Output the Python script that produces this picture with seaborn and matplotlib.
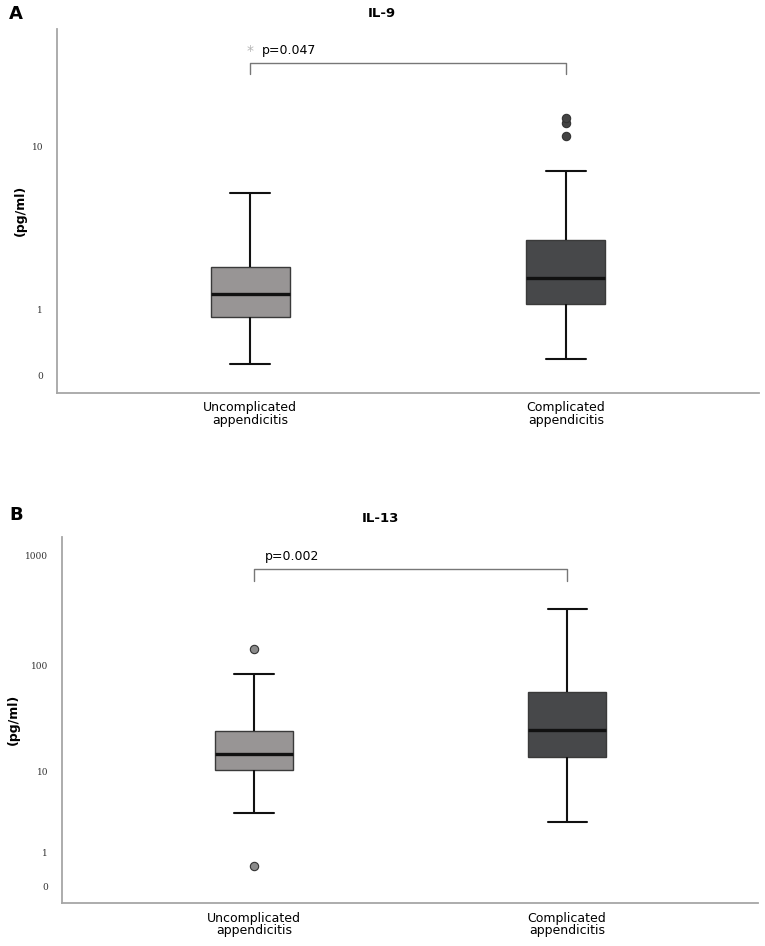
import numpy as np
import pandas as pd
import seaborn as sns
import matplotlib.pyplot as plt
import matplotlib.transforms as mtransforms

groups = ['Uncomplicated\nappendicitis', 'Complicated\nappendicitis']

# five-number summaries: low whisker, Q1, median, Q3, high whisker
il9_uncomp = [0.13, 0.85, 1.36, 2.11, 5.75]
il9_comp = [0.19, 1.12, 1.79, 3.16, 7.5]
il9_outliers = [11.3, 13.1, 13.9]          # complicated group
il13_uncomp = [3.6, 10.3, 14.9, 24.8, 83]
il13_comp = [2.8, 13.8, 25.4, 57.4, 327]
il13_outliers = [141, 0.52]                # uncomplicated group

y_ticks_a = [0, 1, 10]
y_ticks_b = [0, 1, 10, 100, 1000]

box_colors = ['#999494', '#47484a']

sns.set_theme(style='white')
plt.rcParams['font.family'] = ['DejaVu Sans']
plt.rcParams['text.color'] = 'black'
plt.rcParams['xtick.color'] = 'black'


def fwd(v):
    return np.log10(np.maximum(np.asarray(v, dtype=float) + 1, 1e-9))


def inv(v):
    return 10 ** np.asarray(v, dtype=float) - 1


def panel(ax, uncomp, comp, outliers, out_group, out_color, ticks, ylim, xlim):
    df = pd.DataFrame({
        'group': [groups[0]] * len(uncomp) + [groups[1]] * len(comp),
        'value': uncomp + comp,
    })
    sns.boxplot(data=df, x='group', y='value', hue='group', order=groups,
                palette=box_colors, width=0.25, whis=(0, 100), showfliers=False,
                linecolor='#111111', linewidth=1.5, legend=False,
                boxprops=dict(edgecolor='#3a3a3a', linewidth=1.0),
                medianprops=dict(linewidth=2.4, color='#111111'), ax=ax)
    sns.stripplot(x=[out_group] * len(outliers), y=outliers, order=groups,
                  jitter=False, color=out_color, size=6, linewidth=0.8,
                  edgecolor='#333333', ax=ax)
    ax.set_yscale('function', functions=(fwd, inv))
    ax.set_ylim(*ylim)
    ax.set_xlim(*xlim)
    ax.set_yticks(ticks)
    ax.set_yticklabels([str(t) for t in ticks], fontsize=6.5, family='DejaVu Serif',
                       color='#333333')
    ax.set_xticks([0, 1])
    ax.set_xticklabels(groups, fontsize=9, linespacing=0.95)
    ax.tick_params(axis='both', length=0, pad=6)
    ax.tick_params(axis='y', pad=10)
    ax.set_xlabel('')
    ax.set_ylabel('')
    for s in ['top', 'right']:
        ax.spines[s].set_visible(False)
    for s in ['left', 'bottom']:
        ax.spines[s].set_color('#a6a6a6')
        ax.spines[s].set_linewidth(1.3)


def bracket(ax, y_top, y_bot, text, tx, ty, star=False):
    tr = mtransforms.blended_transform_factory(ax.transData, ax.transAxes)
    ax.plot([0, 0, 1, 1], [y_bot, y_top, y_top, y_bot], color='#777777',
            lw=1.0, transform=tr, clip_on=False)
    ax.text(tx, ty, text, transform=tr, fontsize=9, va='center', ha='left')
    if star:
        ax.text(0, ty - 0.002, '*', transform=tr, fontsize=10, va='center',
                ha='center', color='#b5b5b5')


fig = plt.figure(figsize=(7.65, 9.46), dpi=100)
ax_a = fig.add_axes([0.0745, 0.5846, 0.9176, 0.3848])
ax_b = fig.add_axes([0.081, 0.0451, 0.910, 0.3876])

panel(ax_a, il9_uncomp, il9_comp, il9_outliers, groups[1], '#444444',
      y_ticks_a, (-0.163, 36.6), (-0.611, 1.611))
panel(ax_b, il13_uncomp, il13_comp, il13_outliers, groups[0], '#8a8a8a',
      y_ticks_b, (-0.304, 1496), (-0.613, 1.61))

bracket(ax_a, 0.906, 0.876, 'p=0.047', 0.038, 0.942, star=True)
bracket(ax_b, 0.911, 0.880, 'p=0.002', 0.035, 0.945)

fig.text(0.012, 0.985, 'A', fontsize=13, fontweight='bold', va='center')
fig.text(0.012, 0.4556, 'B', fontsize=13, fontweight='bold', va='center')
fig.text(0.499, 0.986, 'IL-9', fontsize=9.5, fontweight='bold', ha='center', va='center')
fig.text(0.497, 0.4514, 'IL-13', fontsize=9.5, fontweight='bold', ha='center', va='center')
fig.text(20 / 765, 0.778, '(pg/ml)', fontsize=9, fontweight='bold', rotation=90,
         ha='center', va='center')
fig.text(13 / 765, 0.2394, '(pg/ml)', fontsize=9, fontweight='bold', rotation=90,
         ha='center', va='center')

fig.savefig('out.png', dpi=100)
